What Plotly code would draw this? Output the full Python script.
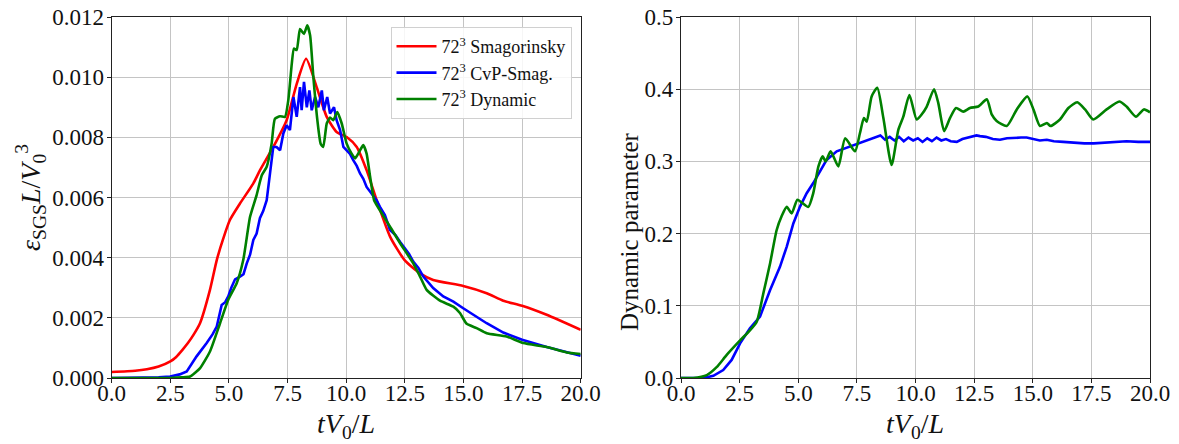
import numpy as np
import plotly.graph_objects as go
from plotly.subplots import make_subplots

# ---- SGS dissipation (values in units of 1e-3) ----
smag_t = [0.0, 1.0, 1.5, 2.0, 2.5, 2.75, 3.0, 3.25, 3.5, 3.77, 4.19, 4.48, 4.76, 5.04, 5.47, 6.04, 6.32,
          6.89, 7.46, 7.89, 8.29, 8.74, 9.17, 9.59, 10.02, 10.45, 10.87, 11.3, 11.87, 12.49,
          13.15, 13.71, 14.99, 15.99, 16.7, 17.5, 18.55, 20.0]
smag_eps = [0.20, 0.24, 0.29, 0.38, 0.55, 0.70, 0.92, 1.16, 1.45, 1.83, 2.93, 3.92, 4.64, 5.25, 5.80, 6.47, 6.90,
            7.68, 8.57, 9.78, 10.61, 9.67, 8.68, 8.18, 8.01, 7.68, 6.91, 5.91, 4.70, 3.92,
            3.48, 3.26, 3.06, 2.82, 2.57, 2.40, 2.10, 1.60]

cvp_t = [0.0, 1.5, 2.0, 2.49, 2.9, 3.2, 3.62, 4.05, 4.3, 4.48, 4.6, 4.69, 4.84, 4.97, 5.1, 5.26, 5.47,
         5.62, 5.76, 5.9, 6.04, 6.18, 6.32, 6.46, 6.61, 6.75, 6.89, 7.03, 7.18, 7.32, 7.46, 7.6, 7.75, 7.89, 8.03,
         8.1, 8.2, 8.32, 8.43, 8.53, 8.67, 8.81, 8.96, 9.05, 9.19, 9.31, 9.48, 9.59, 9.74,
         9.88, 10.02, 10.16, 10.3, 10.45, 10.59, 10.73, 10.87, 11.02, 11.16, 11.3, 11.44,
         11.65, 11.87, 12.1, 12.3, 12.49, 12.68, 12.86, 13.08, 13.29, 13.71, 14.14, 14.57,
         14.99, 15.42, 15.99, 16.7, 17.5, 18.55, 19.4, 20.0]
cvp_eps = [0.0, 0.0, 0.02, 0.05, 0.12, 0.22, 0.72, 1.16, 1.45, 1.71, 2.10, 2.43, 2.52, 2.71, 3.00, 3.28, 3.37,
           3.45, 3.81, 4.10, 4.59, 4.80, 5.31, 5.55, 5.91, 6.91, 7.68, 7.68, 7.57, 8.13, 8.40, 8.24, 9.34, 8.68, 9.67,
           8.90, 9.84, 9.00, 9.56, 8.90, 9.34, 9.00, 9.56, 8.90, 9.34, 8.79, 9.00, 8.57, 8.24,
           7.68, 7.57, 7.45, 7.24, 7.05, 6.80, 6.62, 6.35, 6.18, 6.02, 5.90, 5.69,
           5.42, 4.92, 4.75, 4.52, 4.31, 4.12, 3.87, 3.66, 3.37, 2.99, 2.71, 2.54,
           2.32, 2.10, 1.82, 1.51, 1.27, 1.03, 0.85, 0.74]

dyn_t = [0.0, 2.5, 3.0, 3.34, 3.77, 4.19, 4.62, 4.97, 5.33, 5.61, 5.9, 6.18, 6.4, 6.61, 6.82,
         6.96, 7.18, 7.39, 7.53, 7.68, 7.77, 7.89, 8.03, 8.2, 8.34, 8.46, 8.6, 8.77, 8.91,
         9.02, 9.17, 9.31, 9.45, 9.62, 9.81, 10.02, 10.23, 10.38, 10.59, 10.73, 10.87,
         11.02, 11.19, 11.37, 11.87, 12.3, 12.86, 13.15, 13.43, 14.0, 14.57, 14.85, 15.14,
         15.56, 15.99, 16.84, 17.55, 18.55, 19.4, 20.0]
dyn_eps = [0.0, 0.0, 0.02, 0.05, 0.33, 0.88, 1.82, 2.60, 3.15, 3.92, 5.36, 6.08, 6.74, 7.02, 7.79,
           8.62, 8.70, 8.68, 9.23, 10.45, 10.95, 10.90, 11.60, 11.44, 11.72, 11.39, 10.00, 8.57, 7.79,
           7.68, 8.46, 8.66, 8.57, 8.84, 8.46, 7.79, 7.46, 7.30, 7.57, 7.74, 7.46,
           6.69, 5.91, 5.66, 5.03, 4.48, 3.81, 3.37, 2.93, 2.57, 2.37, 2.16, 1.80,
           1.66, 1.49, 1.38, 1.16, 1.03, 0.85, 0.80]

# ---- Dynamic model coefficient ----
cvp_par_t = [0.0, 0.95, 1.38, 1.8, 2.16, 2.52, 2.94, 3.37, 3.8, 4.22, 4.51, 4.79, 5.07, 5.36, 5.64,
             5.93, 6.21, 6.64, 7.07, 7.63, 8.2, 8.5, 8.7, 8.9, 9.1, 9.3, 9.5, 9.7, 9.9, 10.1,
             10.3, 10.5, 10.7, 10.9, 11.1, 11.3, 11.5, 11.76, 12.0, 12.3, 12.6, 12.75, 13.0,
             13.3, 13.6, 13.9, 14.2, 14.5, 14.74, 15.0, 15.3, 15.6, 15.9, 16.3, 16.7, 17.2,
             17.6, 18.15, 18.6, 19.0, 19.5, 20.0]
cvp_par = [0.0, 0.0, 0.003, 0.011, 0.025, 0.048, 0.069, 0.085, 0.122, 0.154, 0.182, 0.214, 0.237, 0.256, 0.270,
           0.286, 0.302, 0.314, 0.319, 0.326, 0.332, 0.336, 0.330, 0.334, 0.329, 0.334, 0.328, 0.333, 0.329, 0.332,
           0.327, 0.332, 0.328, 0.333, 0.329, 0.331, 0.328, 0.327, 0.331, 0.334, 0.336, 0.335, 0.334,
           0.331, 0.330, 0.332, 0.333, 0.333, 0.333, 0.331, 0.329, 0.330, 0.328, 0.327, 0.326, 0.325,
           0.325, 0.326, 0.327, 0.328, 0.327, 0.327]

dyn_par_t = [0.0, 0.52, 1.1, 1.52, 1.95, 2.52, 2.94, 3.23, 3.51, 3.8, 4.08, 4.29, 4.51, 4.72, 4.96,
             5.15, 5.43, 5.64, 5.86, 6.04, 6.17, 6.38, 6.71, 7.0, 7.42, 7.63, 7.8, 7.92, 8.13,
             8.37, 8.63, 8.98, 9.27, 9.48, 9.74, 10.05, 10.26, 10.48, 10.79, 10.97, 11.22, 11.47,
             11.73, 12.04, 12.32, 12.68, 13.04, 13.25, 13.46, 13.89, 14.32, 14.77, 15.03, 15.31,
             15.6, 15.76, 16.16, 16.52, 16.9, 17.23, 17.58, 18.15, 18.69, 19.0, 19.4, 19.74, 20.0]
dyn_par = [0.0, 0.0, 0.004, 0.015, 0.032, 0.052, 0.066, 0.078, 0.117, 0.159, 0.205, 0.224, 0.237, 0.228, 0.247,
           0.243, 0.237, 0.256, 0.293, 0.307, 0.300, 0.314, 0.293, 0.332, 0.314, 0.339, 0.360, 0.355, 0.390,
           0.402, 0.360, 0.295, 0.344, 0.362, 0.392, 0.358, 0.365, 0.376, 0.400, 0.381, 0.342, 0.360,
           0.374, 0.369, 0.374, 0.376, 0.386, 0.365, 0.356, 0.349, 0.372, 0.390, 0.372, 0.349,
           0.353, 0.349, 0.358, 0.374, 0.382, 0.372, 0.358, 0.372, 0.383, 0.376, 0.362, 0.372, 0.368]

x_ticks = [0.0, 2.5, 5.0, 7.5, 10.0, 12.5, 15.0, 17.5, 20.0]
legend_names = ["72<sup>3</sup> Smagorinsky", "72<sup>3</sup> CvP-Smag.", "72<sup>3</sup> Dynamic"]

RED, BLUE, GREEN = "#ff0000", "#0000ff", "#008000"
FONT = "Liberation Serif, DejaVu Serif, serif"
W, H = 1179, 444
TOP, BOTTOM = 17, 66

fig = make_subplots(rows=1, cols=2)
scale = 1e-3
fig.add_trace(go.Scatter(x=smag_t, y=np.array(smag_eps) * scale, name=legend_names[0],
                         mode="lines", line=dict(color=RED, width=2.6, shape="spline", smoothing=0.6)),
              row=1, col=1)
fig.add_trace(go.Scatter(x=cvp_t, y=np.array(cvp_eps) * scale, name=legend_names[1],
                         mode="lines", line=dict(color=BLUE, width=2.6)), row=1, col=1)
fig.add_trace(go.Scatter(x=dyn_t, y=np.array(dyn_eps) * scale, name=legend_names[2],
                         mode="lines", line=dict(color=GREEN, width=2.6, shape="spline", smoothing=0.5)),
              row=1, col=1)
fig.add_trace(go.Scatter(x=cvp_par_t, y=cvp_par, showlegend=False,
                         mode="lines", line=dict(color=BLUE, width=2.6)), row=1, col=2)
fig.add_trace(go.Scatter(x=dyn_par_t, y=dyn_par, showlegend=False,
                         mode="lines", line=dict(color=GREEN, width=2.6, shape="spline", smoothing=0.6)),
              row=1, col=2)

axis_common = dict(showline=True, linecolor="#222", linewidth=1.2, mirror=True,
                   showgrid=True, gridcolor="#c4c4c4", gridwidth=1, zeroline=False,
                   ticks="outside", ticklen=4, tickcolor="#222", automargin=False,
                   tickfont=dict(family=FONT, size=23, color="#111"))

fig.update_xaxes(axis_common, range=[0, 20], tickvals=x_ticks,
                 ticktext=[f"{v:.1f}" for v in x_ticks], ticklabelstandoff=-10)
fig.update_xaxes(domain=[111.7 / W, 580.7 / W], row=1, col=1)
fig.update_xaxes(domain=[681 / W, 1150 / W], row=1, col=2)
fig.update_yaxes(axis_common, ticklabelstandoff=-2)
fig.update_yaxes(range=[0, 0.012], tickvals=[0, 0.002, 0.004, 0.006, 0.008, 0.010, 0.012],
                 tickformat=".3f", row=1, col=1)
fig.update_yaxes(range=[0, 0.5], tickvals=[0, 0.1, 0.2, 0.3, 0.4, 0.5],
                 tickformat=".1f", row=1, col=2)

plot_h = H - TOP - BOTTOM


def py(px):
    return (H - BOTTOM - px) / plot_h


title_font = dict(family=FONT, size=28, color="#111")
common_ann = dict(xref="paper", yref="paper", showarrow=False, xanchor="center", yanchor="middle")
fig.add_annotation(text="<i>tV</i><sub>0</sub>/<i>L</i>", x=346 / W, y=py(425),
                   font=title_font, **common_ann)
fig.add_annotation(text="<i>tV</i><sub>0</sub>/<i>L</i>", x=915 / W, y=py(425),
                   font=title_font, **common_ann)
fig.add_annotation(text="<i>ε</i><sub>SGS</sub><i>L</i>/<i>V</i><sub>0</sub><sup>3</sup>",
                   x=30 / W, y=py(197), textangle=-90, font=title_font, **common_ann)
fig.add_annotation(text="Dynamic parameter", x=629 / W, y=py(232), textangle=-90,
                   font=dict(family=FONT, size=25, color="#111"), **common_ann)

fig.update_layout(
    width=W, height=H,
    margin=dict(l=0, r=0, t=TOP, b=BOTTOM, autoexpand=False),
    paper_bgcolor="white", plot_bgcolor="white",
    legend=dict(x=571.5 / W, y=py(27), xanchor="right", yanchor="top",
                bgcolor="rgba(255,255,255,0.85)", bordercolor="#d0d0d0", borderwidth=1,
                font=dict(family=FONT, size=18, color="#111"),
                tracegroupgap=0, itemwidth=40),
)

fig.write_html("out.html")
